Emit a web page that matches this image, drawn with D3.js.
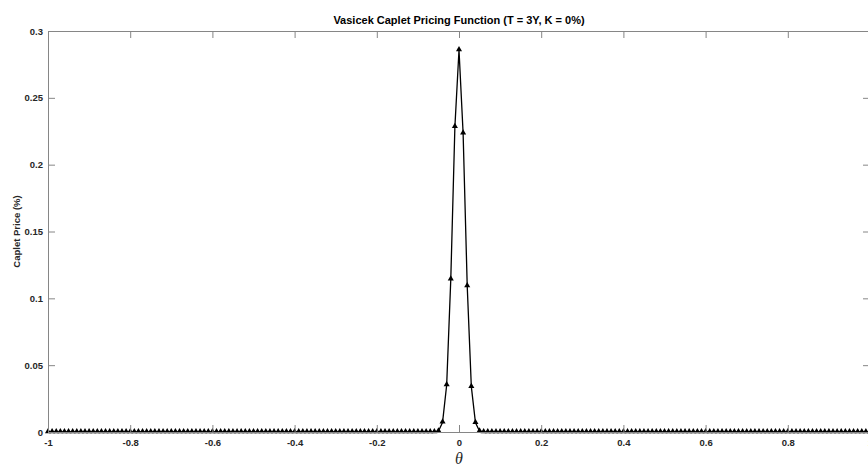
<!DOCTYPE html>
<html>
<head>
<meta charset="utf-8">
<script src="https://cdn.jsdelivr.net/npm/d3@7"></script>
<style>
  body { margin: 0; background: #fff; }
  svg { display: block; font-family: "Liberation Sans", Arial, Helvetica, sans-serif; }
</style>
</head>
<body>
<div id="app"></div>
<script>
// theta grid -1 .. 1, step 0.01 (201 points)
const theta = d3.range(201).map(i => Math.round((-1 + i * 0.01) * 100) / 100)

// caplet price (%), one value per theta
const price = [
  0,0,0,0,0,0,0,0,0,0, 0,0,0,0,0,0,0,0,0,0,
  0,0,0,0,0,0,0,0,0,0, 0,0,0,0,0,0,0,0,0,0,
  0,0,0,0,0,0,0,0,0,0, 0,0,0,0,0,0,0,0,0,0,
  0,0,0,0,0,0,0,0,0,0, 0,0,0,0,0,0,0,0,0,0,
  0,0,0,0,0,0,0,0,0,0, 0,0,0,0,0,0.0006,0.0073,0.0352,0.1142,0.2284,
  0.2858,0.2235,0.1092,0.0339,0.0070,0.0006,0,0,0,0, 0,0,0,0,0,0,0,0,0,0,
  0,0,0,0,0,0,0,0,0,0, 0,0,0,0,0,0,0,0,0,0,
  0,0,0,0,0,0,0,0,0,0, 0,0,0,0,0,0,0,0,0,0,
  0,0,0,0,0,0,0,0,0,0, 0,0,0,0,0,0,0,0,0,0,
  0,0,0,0,0,0,0,0,0,0, 0,0,0,0,0,0,0,0,0,0,
  0
]

const xTicks = [-1, -0.8, -0.6, -0.4, -0.2, 0, 0.2, 0.4, 0.6, 0.8, 1]
const yTicks = [0, 0.05, 0.1, 0.15, 0.2, 0.25, 0.3]

const data = theta.map((t, i) => ({theta: t, price: price[i]}))

const width = 868
const height = 466
const mLeft = 48, mTop = 31, mRight = 870, mBottom = 432
const axisColor = '#868686'
const textColor = '#262626'
const tickLen = 7

const x = d3.scaleLinear().domain([-1, 1]).range([mLeft, mRight])
const y = d3.scaleLinear().domain([0, 0.3]).range([mBottom, mTop])

const svg = d3.select('#app').append('svg')
    .attr('width', width)
    .attr('height', height)
    .attr('viewBox', [0, 0, width, height])

// line + markers
const line = d3.line()
    .x(d => x(d.theta))
    .y(d => y(d.price))

svg.append('path')
    .datum(data)
    .attr('fill', 'none')
    .attr('stroke', '#000')
    .attr('stroke-width', 1.3)
    .attr('d', line)

const tri = d3.symbol().type(d3.symbolTriangle).size(16)
svg.append('g').selectAll('path')
    .data(data).enter()
    .append('path')
    .attr('d', tri)
    .attr('transform', d => `translate(${x(d.theta)},${y(d.price) - 0.5})`)
    .attr('fill', '#000')

// axes, MATLAB box style with inward ticks (plain hyphen for negatives)
const fmt = d => String(d)
const bottomAxis = svg.append('g').attr('transform', `translate(0,${mBottom})`)
    .call(d3.axisBottom(x).tickValues(xTicks).tickSizeInner(-tickLen).tickSizeOuter(0).tickFormat(fmt))
const leftAxis = svg.append('g').attr('transform', `translate(${mLeft},0)`)
    .call(d3.axisLeft(y).tickValues(yTicks).tickSizeInner(-tickLen).tickSizeOuter(0).tickFormat(fmt))
const topAxis = svg.append('g').attr('transform', `translate(0,${mTop})`)
    .call(d3.axisTop(x).tickValues(xTicks).tickSizeInner(-tickLen).tickSizeOuter(0).tickFormat(''))
const rightAxis = svg.append('g').attr('transform', `translate(${mRight},0)`)
    .call(d3.axisRight(y).tickValues(yTicks).tickSizeInner(-tickLen).tickSizeOuter(0).tickFormat(''))

for (const ax of [bottomAxis, leftAxis, topAxis, rightAxis]) {
    ax.select('.domain').attr('stroke', axisColor).attr('stroke-width', 1)
    ax.selectAll('.tick line').attr('stroke', axisColor)
    ax.selectAll('.tick text')
        .attr('fill', textColor)
        .style('font-size', '9.5px')
        .style('font-weight', 'bold')
        .style('font-family', '"Liberation Sans", Arial, sans-serif')
}
leftAxis.selectAll('.tick text').attr('x', -5)
bottomAxis.selectAll('.tick text').attr('y', 7)

// title and labels
svg.append('text')
    .attr('x', (mLeft + mRight) / 2)
    .attr('y', 24)
    .attr('text-anchor', 'middle')
    .attr('fill', '#000')
    .style('font-size', '11px')
    .style('font-weight', 'bold')
    .text('Vasicek Caplet Pricing Function (T = 3Y, K = 0%)')

svg.append('text')
    .attr('transform', `translate(20,${(mTop + mBottom) / 2}) rotate(-90)`)
    .attr('text-anchor', 'middle')
    .attr('fill', textColor)
    .style('font-size', '9.5px')
    .style('font-weight', 'bold')
    .text('Caplet Price (%)')

svg.append('text')
    .attr('x', x(0))
    .attr('y', 464)
    .attr('text-anchor', 'middle')
    .attr('fill', textColor)
    .style('font-family', '"Liberation Serif", "DejaVu Serif", serif')
    .style('font-style', 'italic')
    .style('font-size', '16px')
    .text('θ')
</script>
</body>
</html>
